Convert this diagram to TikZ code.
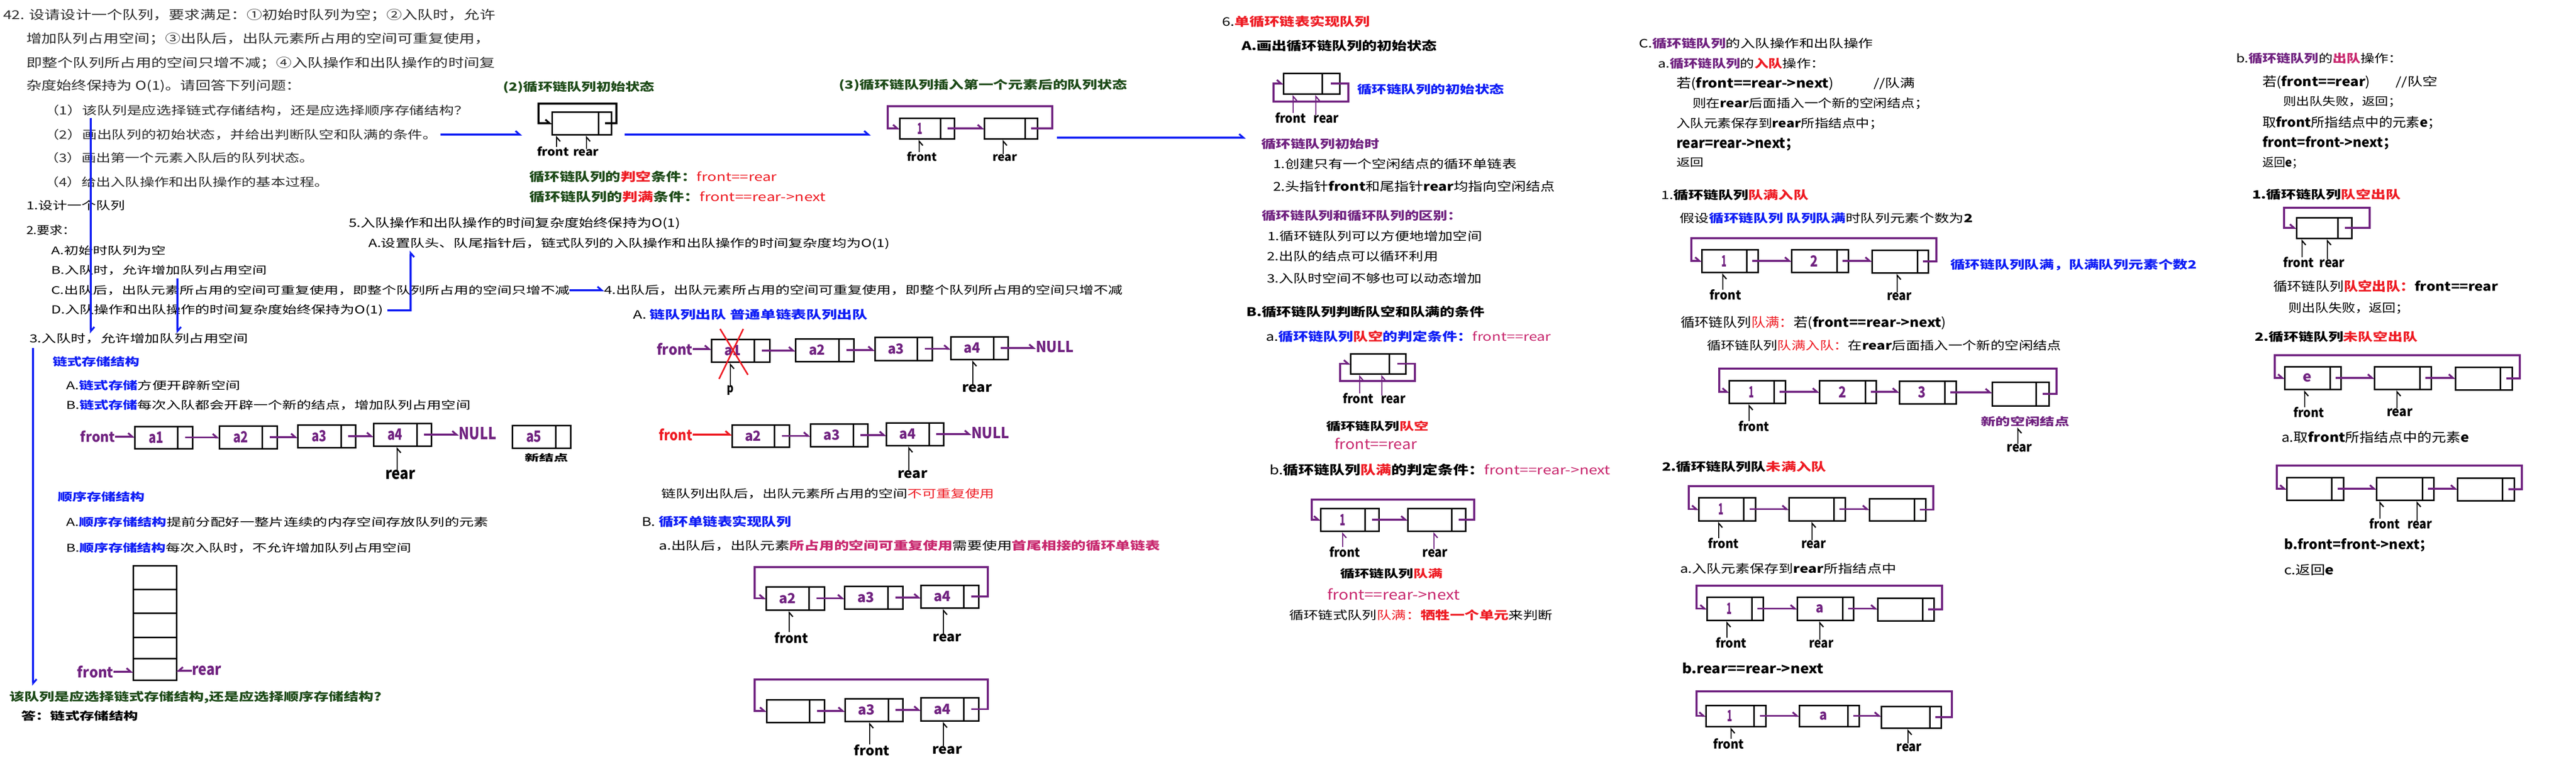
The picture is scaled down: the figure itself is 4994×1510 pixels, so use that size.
\documentclass[tikz,border=0pt]{standalone}
\usepackage{fontspec}
\usepackage{graphicx}
\setmainfont{Noto Sans CJK SC}
\usetikzlibrary{arrows.meta,calc}
\definecolor{tblue}{RGB}{15,30,245}
\definecolor{lpurple}{RGB}{112,34,128}
\definecolor{tred}{RGB}{238,28,36}
\definecolor{dgreen}{RGB}{30,75,25}
\definecolor{tmag}{RGB}{200,40,110}
\definecolor{tgray}{RGB}{45,45,45}
\tikzset{
 txt/.style={anchor=west, inner sep=0pt, outer sep=0pt},
 lbl/.style={anchor=center, inner sep=0pt, outer sep=0pt},
 cellbox/.style={draw=black, line width=3pt, inner sep=0pt, outer sep=0pt},
 boxln/.style={draw=black, line width=3pt},
 tipL/.tip={Straight Barb[left, length=8pt, width=14pt]},
 tipR/.tip={Straight Barb[right, length=8pt, width=14pt]},
 link/.style={draw=lpurple, line width=3.5pt, -tipL},
 linkR/.style={draw=lpurple, line width=3.5pt, -tipR},
 ptr/.style={draw=black, line width=2.4pt, -tipR, shorten >=2pt},
 pptr/.style={ptr, draw=lpurple},
 bluearr/.style={draw=tblue, line width=3.5pt, -tipL},
 bluearrU/.style={draw=tblue, line width=3.5pt, -tipR}
}
\newcommand{\rsz}[3]{\resizebox{#1pt}{#2pt}{#3}}
\newcommand{\tnode}[6]{\node[txt] (#1) at (#2,#3) {\rsz{#4}{#5}{#6}};}
\newcommand{\lnode}[7]{\node[lbl] (#1) at (#2,#3) {\rsz{#4}{#5}{\color{#6}\bfseries #7}};}
\newcommand{\kb}[1]{{\bfseries #1}}
\newcommand{\kc}[2]{\textcolor{#1}{#2}}
\newcommand{\kcb}[2]{\textcolor{#1}{\bfseries #2}}
\newcommand{\qlab}[3]{\rsz{#1}{#2}{\color{lpurple}\bfseries #3}}
\newcommand{\qcell}[7]{%
  \node[cellbox, minimum width={(#4-#2)*1pt}, minimum height={(#5-#3)*1pt}] (#1) at ({(#2+#4)/2},{(#3+#5)/2}) {\makebox[0pt]{\hspace*{-\dimexpr #4pt-#6pt\relax}#7}};%
  \draw[boxln] (#6,#3) -- (#6,#5);%
  \coordinate (#1p) at ({(#6+#4)/2},{(#3+#5)/2});}
\newcommand{\qlink}[2]{\draw[link] (#1p) -- (#2.west |- #1p);}
\newcommand{\qloop}[5]{\draw[link] (#1p) -| (#2,#3) -| ([xshift=-#4pt]#5.west) -- (#5.west);}
\newcommand{\qptr}[4][ptr]{\draw[#1] ($(#2.north)+(#4,0)$) -- ($(#2.north |- #3.south)+(#4,0)$);}
\begin{document}
\begin{tikzpicture}[x=1pt,y=-1pt]
\useasboundingbox (0,0) rectangle (4994,1510);
\fill[white] (0,0) rectangle (4994,1510);
% ---------- question ----------
\tnode{t1}{6}{29}{954}{20}{\color{tgray}42. 设请设计一个队列，要求满足：①初始时队列为空；②入队时，允许}
\tnode{t2}{51}{75}{899}{20}{\color{tgray}增加队列占用空间；③出队后，出队元素所占用的空间可重复使用，}
\tnode{t3}{51}{122}{909}{20}{\color{tgray}即整个队列所占用的空间只增不减；④入队操作和出队操作的时间复}
\tnode{t4}{51}{167}{533}{20}{\color{tgray}杂度始终保持为 O(1)。请回答下列问题：}
\tnode{q1}{86}{214}{823}{19}{\color{tgray}（1）该队列是应选择链式存储结构，还是应选择顺序存储结构？}
\tnode{q2}{86}{261}{762}{19}{\color{tgray}（2）画出队列的初始状态，并给出判断队空和队满的条件。}
\tnode{q3}{86}{306}{523}{19}{\color{tgray}（3）画出第一个元素入队后的队列状态。}
\tnode{q4}{86}{353}{552}{19}{\color{tgray}（4）给出入队操作和出队操作的基本过程。}
% ---------- requirements ----------
\tnode{s1}{51}{398}{191}{18}{1.设计一个队列}
\tnode{s2}{51}{446}{96}{18}{2.要求：}
\tnode{rA}{99}{486}{223}{17}{A.初始时队列为空}
\tnode{rB}{99}{524}{418}{17}{B.入队时，允许增加队列占用空间}
\tnode{rC}{99}{563}{1005}{17}{C.出队后，出队元素所占用的空间可重复使用，即整个队列所占用的空间只增不减}
\tnode{rD}{99}{602}{644}{18}{D.入队操作和出队操作的时间复杂度始终保持为O(1)}
\tnode{r5}{676}{433}{643}{19}{5.入队操作和出队操作的时间复杂度始终保持为O(1)}
\tnode{r5A}{714}{473}{1011}{18}{A.设置队头、队尾指针后，链式队列的入队操作和出队操作的时间复杂度均为O(1)}
\tnode{r4}{1171}{563}{1006}{18}{4.出队后，出队元素所占用的空间可重复使用，即整个队列所占用的空间只增不减}
% ---------- 3. ----------
\tnode{s3}{57}{657}{424}{18}{3.入队时，允许增加队列占用空间}
\tnode{h1}{102}{702}{169}{18}{\kcb{tblue}{链式存储结构}}
\tnode{l1A}{128}{748}{338}{18}{A.\kcb{tblue}{链式存储}方便开辟新空间}
\tnode{l1B}{128}{786}{784}{18}{B.\kcb{tblue}{链式存储}每次入队都会开辟一个新的结点，增加队列占用空间}
\tnode{h2}{112}{964}{169}{18}{\kcb{tblue}{顺序存储结构}}
\tnode{l2A}{128}{1013}{819}{18}{A.\kcb{tblue}{顺序存储结构}提前分配好一整片连续的内存空间存放队列的元素}
\tnode{l2B}{128}{1063}{669}{18}{B.\kcb{tblue}{顺序存储结构}每次入队时，不允许增加队列占用空间}
\tnode{qq}{18}{1352}{722}{19}{\kcb{dgreen}{该队列是应选择链式存储结构,还是应选择顺序存储结构?}}
\tnode{ans}{41}{1389}{227}{18}{\kb{答：链式存储结构}}
% linked list
\lnode{fr1}{189.5}{847}{67}{22}{lpurple}{front}
\qcell{La}{261}{827}{373}{870}{344}{\qlab{29}{22}{a1}}
\qcell{Lb}{425}{826}{537}{870}{508}{\qlab{29}{22}{a2}}
\qcell{Lc}{577}{824}{689}{868}{661}{\qlab{29}{22}{a3}}
\qcell{Ld}{724}{821}{836}{865}{808}{\qlab{29}{22}{a4}}
\lnode{null1}{926}{841}{73}{24}{lpurple}{NULL}
\qcell{La5}{993}{825}{1106}{869}{1077}{\qlab{30}{22}{a5}}
\tnode{newnode}{1017}{888}{85}{15}{\kb{新结点}}
\lnode{rear1}{776}{921}{58}{18}{black}{rear}
\draw[link] (fr1.east) -- (La.west |- fr1.east);
\qlink{La}{Lb}\qlink{Lb}{Lc}\qlink{Lc}{Ld}
\draw[link] (Ldp) -- (null1.west |- Ldp);
\qptr{rear1}{Ld}{-6}
% array
\node[cellbox, minimum width=84pt, minimum height=46pt] (ar1) at (300,1120) {};
\node[cellbox, minimum width=84pt, minimum height=46pt] (ar2) at (300,1166) {};
\node[cellbox, minimum width=84pt, minimum height=47pt] (ar3) at (300,1212.5) {};
\node[cellbox, minimum width=84pt, minimum height=41pt] (ar4) at (300,1256.5) {};
\node[cellbox, minimum width=84pt, minimum height=42pt] (ar5) at (300,1298) {};
\lnode{fr2}{185}{1303}{70}{23}{lpurple}{front}
\lnode{re2}{400.5}{1301}{57}{18}{lpurple}{rear}
\draw[link] (fr2.east) -- (ar5.west |- fr2.east);
\draw[linkR] (re2.west) -- (ar5.east |- re2.west);
% ---------- (2) (3) ----------
\tnode{ti2}{975}{169}{294}{19}{\kcb{dgreen}{(2)循环链队列初始状态}}
\qcell{ini}{1070}{217}{1185}{261}{1160}{}
\draw[link, draw=black] (inip) -| (1195,201) -| ([xshift=-26pt]ini.west) -- (ini.west);
\lnode{fr3}{1072}{294}{62}{18}{black}{front}
\lnode{re3}{1136}{296}{50}{13}{black}{rear}
\qptr{fr3}{ini}{7}
\qptr{re3}{ini}{1}
\tnode{ti3}{1626}{165}{559}{19}{\kcb{dgreen}{(3)循环链队列插入第一个元素后的队列状态}}
\qcell{cA}{1744}{229}{1850}{269}{1823}{\qlab{10}{22}{1}}
\qcell{cB}{1908}{229}{2011}{269}{1987}{}
\qlink{cA}{cB}
\qloop{cB}{2040}{206}{23}{cA}
\lnode{fr4}{1787}{304}{58}{18}{black}{front}
\lnode{re4}{1948}{306}{48}{13}{black}{rear}
\qptr{fr4}{cA}{-5}
\qptr{re4}{cB}{-3}
\tnode{cd1}{1026}{343}{480}{20}{\kcb{dgreen}{循环链队列的}\kcb{tred}{判空}\kcb{dgreen}{条件：}\kc{tred}{front==rear}}
\tnode{cd2}{1026}{382}{575}{20}{\kcb{dgreen}{循环链队列的}\kcb{tred}{判满}\kcb{dgreen}{条件：}\kc{tred}{front==rear->next}}
% ---------- 4. A ----------
\tnode{s4A}{1227}{610}{455}{19}{A. \kcb{tblue}{链队列出队 普通单链表队列出队}}
\lnode{fr5}{1308}{677}{70}{23}{lpurple}{front}
\qcell{dA}{1379}{658}{1492}{702}{1462}{\qlab{32}{20}{a1}}
\qcell{dB}{1542}{657}{1655}{701}{1626}{\qlab{32}{20}{a2}}
\qcell{dC}{1696}{654}{1807}{699}{1778}{\qlab{32}{20}{a3}}
\qcell{dD}{1843}{653}{1954}{697}{1926}{\qlab{32}{20}{a4}}
\lnode{null2}{2045}{673}{74}{22}{lpurple}{NULL}
\draw[link] (fr5.east) -- (dA.west |- fr5.east);
\qlink{dA}{dB}\qlink{dB}{dC}\qlink{dC}{dD}
\draw[link] (dDp) -- (null2.west |- dDp);
\draw[tred, line width=3pt] (1396,638) -- (1450,727);
\draw[tred, line width=3pt] (1441,638) -- (1394,735);
\node[lbl] (plb) at (1416,757) {\rsz{13}{14}{\bfseries p}};
\lnode{reA}{1894}{753}{58}{15}{black}{rear}
\qptr{plb}{dA}{0}
\qptr{reA}{dD}{-8}
\lnode{fr6}{1310}{843}{65}{23}{tred}{front}
\qcell{eA}{1419}{824}{1530}{867}{1501}{\qlab{32}{20}{a2}}
\qcell{eB}{1571}{822}{1682}{866}{1654}{\qlab{32}{20}{a3}}
\qcell{eC}{1718}{820}{1829}{864}{1801}{\qlab{32}{20}{a4}}
\lnode{null3}{1920}{840}{74}{22}{lpurple}{NULL}
\draw[link, draw=tred] (fr6.east) -- (eA.west |- fr6.east);
\qlink{eA}{eB}\qlink{eB}{eC}
\draw[link] (eCp) -- (null3.west |- eCp);
\lnode{reB}{1769}{920}{58}{15}{black}{rear}
\qptr{reB}{eC}{-7}
\tnode{n4}{1282}{958}{646}{18}{链队列出队后，出队元素所占用的空间\kc{tred}{不可重复使用}}
% ---------- B ----------
\tnode{sB}{1244}{1012}{290}{20}{B. \kcb{tblue}{循环单链表实现队列}}
\tnode{sBa}{1277}{1058}{972}{19}{a.出队后，出队元素\kcb{tmag}{所占用的空间可重复使用}需要使用\kcb{tmag}{首尾相接的循环单链表}}
\qcell{fA}{1485}{1138}{1598}{1183}{1568}{\qlab{33}{20}{a2}}
\qcell{fB}{1637}{1137}{1750}{1181}{1721}{\qlab{33}{20}{a3}}
\qcell{fC}{1785}{1135}{1897}{1179}{1868}{\qlab{33}{20}{a4}}
\qlink{fA}{fB}\qlink{fB}{fC}
\qloop{fC}{1915}{1100}{22}{fA}
\lnode{frB1}{1534}{1237}{66}{21}{black}{front}
\lnode{reB1}{1836}{1237}{56}{15}{black}{rear}
\qptr{frB1}{fA}{-4}
\qptr{reB1}{fC}{-7}
\qcell{gA}{1486}{1357}{1598}{1401}{1569}{}
\qcell{gB}{1638}{1355}{1750}{1399}{1722}{\qlab{33}{20}{a3}}
\qcell{gC}{1785}{1353}{1897}{1398}{1868}{\qlab{33}{20}{a4}}
\qlink{gA}{gB}\qlink{gB}{gC}
\qloop{gC}{1915}{1318}{23}{gA}
\lnode{frB2}{1690}{1455}{69}{21}{black}{front}
\lnode{reB2}{1836}{1455}{58}{15}{black}{rear}
\qptr{frB2}{gB}{-4}
\qptr{reB2}{gC}{-7}
% ---------- 6 ----------
\tnode{s6}{2369}{42}{287}{20}{6.\kcb{tred}{单循环链表实现队列}}
\tnode{s6A}{2407}{89}{379}{20}{\kb{A.画出循环链队列的初始状态}}
\qcell{kA}{2488}{142}{2597}{182}{2563}{}
\draw[link] (kAp) -| (2614,197) -| ([xshift=-19pt]kA.west) -- (kA.west);
\lnode{fr7}{2502}{229}{60}{20}{black}{front}
\lnode{re7}{2571}{231}{49}{15}{black}{rear}
\qptr[pptr]{fr7}{kA}{5}
\qptr[pptr]{re7}{kA}{-20}
\tnode{s6At}{2631}{173}{285}{19}{\kcb{tblue}{循环链队列的初始状态}}
\tnode{s6h1}{2445}{279}{229}{19}{\kcb{lpurple}{循环链队列初始时}}
\tnode{s6l1}{2468}{318}{472}{19}{1.创建只有一个空闲结点的循环单链表}
\tnode{s6l2}{2468}{361}{546}{20}{2.头指针\kb{front}和尾指针\kb{rear}均指向空闲结点}
\tnode{s6h2}{2446}{418}{388}{19}{\kcb{lpurple}{循环链队列和循环队列的区别：}}
\tnode{s6m1}{2457}{458}{416}{19}{1.循环链队列可以方便地增加空间}
\tnode{s6m2}{2456}{497}{332}{19}{2.出队的结点可以循环利用}
\tnode{s6m3}{2456}{540}{417}{19}{3.入队时空间不够也可以动态增加}
\tnode{s6B}{2416}{605}{462}{20}{\kb{B.循环链队列判断队空和队满的条件}}
\tnode{s6a}{2454}{653}{553}{20}{a.\kcb{tblue}{循环链队列}\kcb{tred}{队空}\kcb{tblue}{的判定条件：}\kc{tmag}{front==rear}}
\qcell{kB}{2618}{686}{2725}{725}{2693}{}
\draw[link] (kBp) -| (2743,739) -| ([xshift=-20pt]kB.west) -- (kB.west);
\lnode{fr8}{2633}{773}{60}{20}{black}{front}
\lnode{re8}{2701}{775}{48}{15}{black}{rear}
\qptr[pptr]{fr8}{kB}{3}
\qptr[pptr]{re8}{kB}{-22}
\tnode{s6e1}{2571}{827}{199}{18}{\kb{循环链队列}\kcb{tred}{队空}}
\tnode{s6e2}{2587}{861}{160}{22}{\kc{tmag}{front==rear}}
\tnode{s6b}{2461}{911}{661}{21}{b.\kb{循环链队列}\kcb{tred}{队满}\kb{的判定条件：}\kc{tmag}{front==rear->next}}
\qcell{kC}{2560}{986}{2673}{1030}{2646}{\qlab{11}{22}{1}}
\qcell{kD}{2729}{986}{2841}{1030}{2814}{}
\qlink{kC}{kD}
\qloop{kD}{2858}{969}{17}{kC}
\lnode{fr9}{2607}{1071}{60}{20}{black}{front}
\lnode{re9}{2782}{1073}{49}{15}{black}{rear}
\qptr[pptr]{fr9}{kC}{-4}
\qptr[pptr]{re9}{kD}{-2}
\tnode{s6f1}{2598}{1113}{199}{18}{\kb{循环链队列}\kcb{tred}{队满}}
\tnode{s6f2}{2573}{1153}{257}{22}{\kc{tmag}{front==rear->next}}
\tnode{s6g}{2499}{1193}{511}{19}{循环链式队列\kc{tred}{队满：}\kcb{tred}{牺牲一个单元}来判断}
% ---------- C ----------
\tnode{sC}{3177}{84}{454}{19}{C.\kcb{lpurple}{循环链队列}的入队操作和出队操作}
\tnode{sCa}{3214}{123}{324}{19}{a.\kcb{lpurple}{循环链队列}的\kcb{tred}{入队}操作：}
\tnode{c1}{3250}{162}{305}{21}{若(\kb{front==rear->next})}
\tnode{c1b}{3632}{162}{81}{19}{//队满}
\tnode{c2}{3281}{201}{458}{19}{则在\kb{rear}后面插入一个新的空闲结点；}
\tnode{c3}{3250}{240}{401}{19}{入队元素保存到\kb{rear}所指结点中；}
\tnode{c4}{3250}{280}{238}{20}{\kb{rear=rear->next；}}
\tnode{c5}{3250}{315}{53}{17}{返回}
\tnode{sC1}{3220}{378}{286}{19}{1.\kb{循环链队列}\kcb{tred}{队满入队}}
\tnode{sC1b}{3256}{423}{569}{19}{假设\kcb{tblue}{循环链队列 队列队满}时队列元素个数为\kb{2}}
\qcell{mA}{3299}{484}{3408}{528}{3386}{\qlab{10}{22}{1}}
\qcell{mB}{3473}{484}{3583}{528}{3561}{\qlab{15}{22}{2}}
\qcell{mC}{3629}{485}{3738}{529}{3717}{}
\qlink{mA}{mB}\qlink{mB}{mC}
\qloop{mC}{3754}{462}{20}{mA}
\lnode{frC1}{3345}{572}{61}{20}{black}{front}
\lnode{reC1}{3682}{575}{48}{15}{black}{rear}
\qptr{frC1}{mA}{-5}
\qptr{reC1}{mC}{-4}
\tnode{blueC}{3781}{514}{478}{19}{\kcb{tblue}{循环链队列队满，队满队列元素个数2}}
\tnode{sC2}{3258}{626}{515}{21}{循环链队列\kc{tred}{队满：}若(\kb{front==rear->next})}
\tnode{sC3}{3309}{670}{687}{19}{循环链队列\kc{tred}{队满入队：}在\kb{rear}后面插入一个新的空闲结点}
\qcell{nA}{3352}{738}{3461}{782}{3439}{\qlab{10}{22}{1}}
\qcell{nB}{3527}{738}{3637}{782}{3616}{\qlab{15}{22}{2}}
\qcell{nC}{3682}{739}{3792}{783}{3770}{\qlab{15}{22}{3}}
\qcell{nD}{3862}{741}{3972}{787}{3947}{}
\qlink{nA}{nB}\qlink{nB}{nC}\qlink{nC}{nD}
\qloop{nD}{3987}{715}{19}{nA}
\lnode{frC2}{3400}{827}{60}{20}{black}{front}
\qptr{frC2}{nA}{-9}
\tnode{newn}{3840}{817}{172}{18}{\kcb{lpurple}{新的空闲结点}}
\lnode{reC2}{3915}{869}{49}{15}{black}{rear}
\qptr{reC2}{newn}{-3}
\tnode{sC4}{3222}{905}{318}{19}{\kb{2.循环链队列队}\kcb{tred}{未满入队}}
\qcell{oA}{3293}{965}{3403}{1010}{3380}{\qlab{10}{22}{1}}
\qcell{oB}{3468}{965}{3577}{1010}{3555}{}
\qcell{oC}{3624}{967}{3733}{1010}{3711}{}
\qlink{oA}{oB}\qlink{oB}{oC}
\qloop{oC}{3748}{943}{19}{oA}
\lnode{frC3}{3341}{1054}{60}{20}{black}{front}
\lnode{reC3}{3516}{1056}{48}{15}{black}{rear}
\qptr{frC3}{oA}{-9}
\qptr{reC3}{oB}{-3}
\tnode{sC5}{3257}{1103}{419}{19}{a.入队元素保存到\kb{rear}所指结点中}
\qcell{pA}{3309}{1158}{3418}{1203}{3396}{\qlab{10}{22}{1}}
\qcell{pB}{3484}{1158}{3593}{1203}{3572}{\qlab{15}{16}{a}}
\qcell{pC}{3640}{1160}{3749}{1204}{3727}{}
\qlink{pA}{pB}\qlink{pB}{pC}
\qloop{pC}{3765}{1136}{20}{pA}
\lnode{frC4}{3356}{1247}{60}{20}{black}{front}
\lnode{reC4}{3531}{1249}{47}{15}{black}{rear}
\qptr{frC4}{pA}{-8}
\qptr{reC4}{pB}{-3}
\tnode{sC6}{3261}{1296}{274}{21}{\kb{b.rear==rear->next}}
\qcell{uA}{3307}{1368}{3423}{1409}{3400}{\qlab{10}{22}{1}}
\qcell{uB}{3488}{1368}{3604}{1409}{3582}{\qlab{15}{16}{a}}
\qcell{uC}{3647}{1370}{3763}{1412}{3741}{}
\qlink{uA}{uB}\qlink{uB}{uC}
\qloop{uC}{3784}{1341}{18}{uA}
\lnode{frC5}{3351}{1443}{60}{20}{black}{front}
\lnode{reC5}{3701}{1450}{49}{15}{black}{rear}
\qptr{frC5}{uA}{5}
\qptr{reC5}{uC}{-2}
% ---------- b ----------
\tnode{sb}{4335}{113}{323}{19}{b.\kcb{lpurple}{循环链队列}的\kcb{tmag}{出队}操作：}
\tnode{b1}{4386}{159}{209}{21}{若(\kb{front==rear})}
\tnode{b1b}{4644}{159}{82}{19}{//队空}
\tnode{b2}{4426}{197}{230}{18}{则出队失败，返回；}
\tnode{b3}{4386}{238}{347}{21}{取\kb{front}所指结点中的元素\kb{e}；}
\tnode{b4}{4386}{277}{260}{21}{\kb{front=front->next；}}
\tnode{b5}{4386}{316}{80}{19}{返回\kb{e}；}
\tnode{sb1}{4366}{377}{288}{19}{\kb{1.循环链队列}\kcb{tred}{队空出队}}
\qcell{wA}{4452}{422}{4559}{462}{4532}{}
\qloop{wA}{4594}{403}{24}{wA}
\lnode{frb1}{4456}{509}{60}{20}{black}{front}
\lnode{reb1}{4521}{511}{49}{15}{black}{rear}
\qptr{frb1}{wA}{7}
\qptr{reb1}{wA}{-9}
\tnode{sb2}{4407}{555}{436}{21}{循环链队列\kcb{tred}{队空出队：}\kb{front==rear}}
\tnode{sb3}{4436}{598}{235}{19}{则出队失败，返回；}
\tnode{sb4}{4371}{653}{316}{19}{\kb{2.循环链队列}\kcb{tred}{未队空出队}}
\qcell{xA}{4429}{711}{4538}{755}{4517}{\qlab{17}{16}{e}}
\qcell{xB}{4603}{711}{4713}{755}{4691}{}
\qcell{xC}{4760}{712}{4870}{756}{4847}{}
\qlink{xA}{xB}\qlink{xB}{xC}
\qloop{xC}{4885}{689}{19}{xA}
\lnode{frb2}{4476}{800}{59}{20}{black}{front}
\lnode{reb2}{4652}{800}{50}{15}{black}{rear}
\qptr{frb2}{xA}{-8}
\qptr{reb2}{xB}{-5}
\tnode{sb5}{4423}{848}{364}{21}{a.取\kb{front}所指结点中的元素\kb{e}}
\qcell{yA}{4433}{926}{4543}{970}{4520}{}
\qcell{yB}{4607}{926}{4718}{970}{4696}{}
\qcell{yC}{4764}{927}{4874}{971}{4851}{}
\qlink{yA}{yB}\qlink{yB}{yC}
\qloop{yC}{4889}{903}{19}{yA}
\lnode{frb3}{4623}{1016}{59}{20}{black}{front}
\lnode{reb3}{4691}{1018}{48}{15}{black}{rear}
\qptr{frb3}{yB}{-9}
\qptr{reb3}{yB}{-5}
\tnode{sb6}{4428}{1057}{289}{21}{\kb{b.front=front->next；}}
\tnode{sb7}{4428}{1105}{97}{20}{c.返回\kb{e}}
% ---------- blue connectors ----------
\coordinate (b1e) at (1012,261);
\draw[bluearr, shorten <=6pt] (q2.east) -- (b1e);
\coordinate (b2s) at (1211,261);
\coordinate (b2e) at (1688,261);
\draw[bluearr] (b2s) -- (b2e);
\coordinate (b3s) at (2049,267);
\coordinate (b3e) at (2415,267);
\draw[bluearr] (b3s) -- (b3e);
\draw[bluearr, shorten <=4pt] ($(q1.south west)+(90,0)$) -- ($(q1.south west |- s3.north)+(90,0)$);
\draw[bluearr, shorten <=6pt] ($(rB.south west)+(245,0)$) -- ($(rB.south west |- s3.north)+(245,0)$);
\draw[bluearr, shorten <=8pt, shorten >=10pt] ($(s3.south west)+(7,0)$) -- ($(s3.south west |- qq.north)+(7,0)$);
\draw[bluearr] (rC.east) -- (r4.west);
\draw[bluearrU, shorten <=8pt, shorten >=2pt] (rD.east) -| ($(r5A.south west)+(82,0)$);
\end{tikzpicture}
\end{document}
